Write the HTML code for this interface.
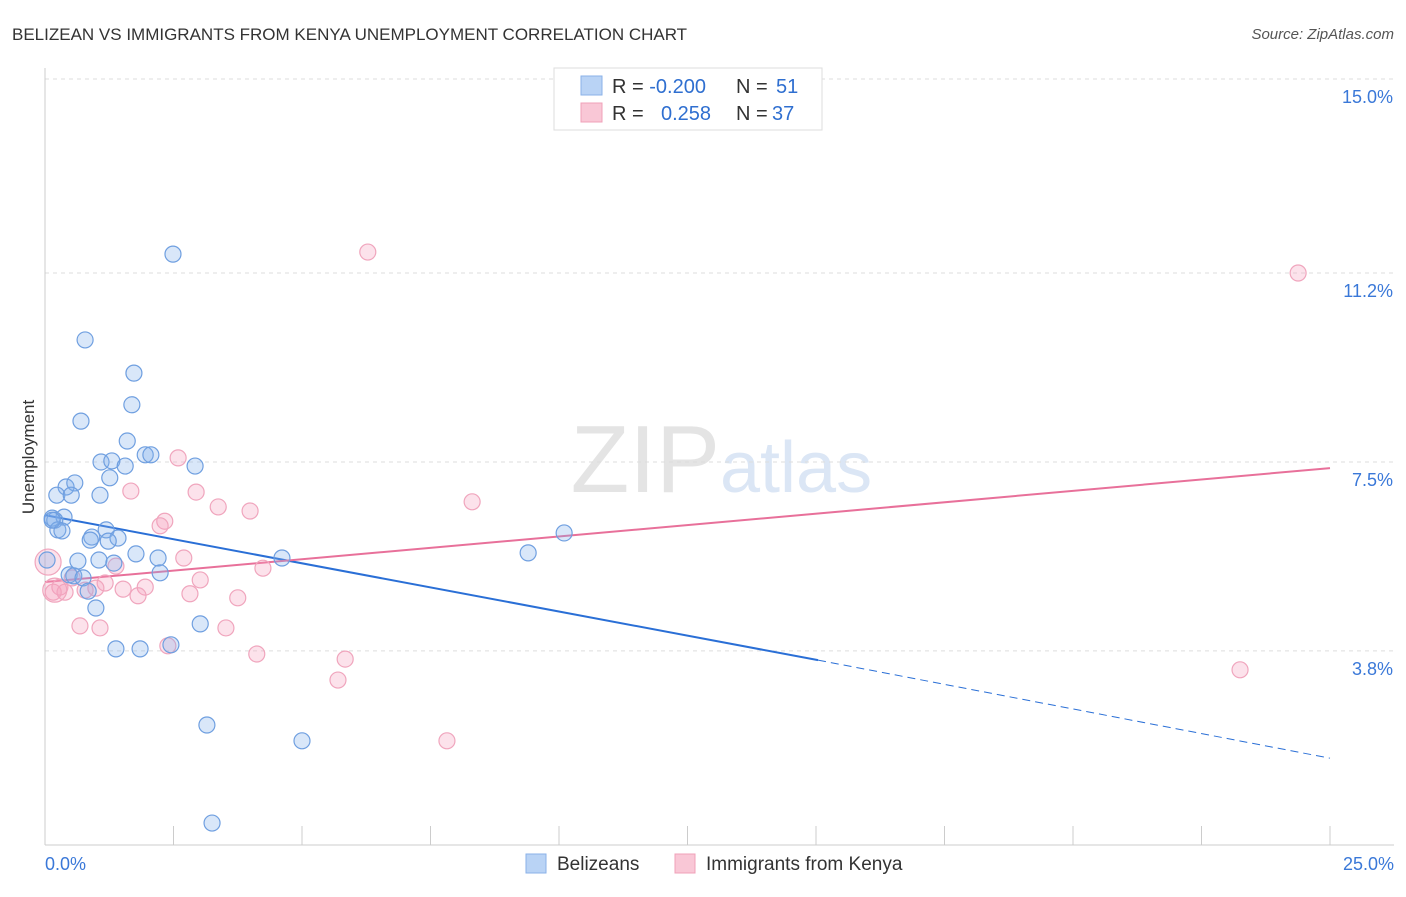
<!DOCTYPE html>
<html><head><meta charset="utf-8"><style>
body{margin:0;background:#fff;font-family:"Liberation Sans",sans-serif;}
svg text{font-family:"Liberation Sans",sans-serif;}
</style></head><body>
<svg width="1406" height="892" id="chart">
<text x="12" y="40" font-size="17" fill="#333">BELIZEAN VS IMMIGRANTS FROM KENYA UNEMPLOYMENT CORRELATION CHART</text>
<text x="1394" y="39" font-size="15" fill="#555" text-anchor="end" font-style="italic">Source: ZipAtlas.com</text>
<text x="720" y="492" font-size="96" fill="#e4e4e4" text-anchor="end" font-family="Liberation Serif">ZIP</text>
<text x="720" y="492" font-size="72" fill="#dbe6f5">atlas</text>
<text transform="translate(34,457) rotate(-90)" font-size="17" fill="#333" text-anchor="middle">Unemployment</text>
<g id="grid"></g><g id="lines"></g><g id="pts"></g>
<g>
<rect x="554" y="68" width="268" height="62" fill="#fff" stroke="#ddd"/>
<rect x="581" y="76" width="21" height="19" fill="#b9d3f5" stroke="#8ab2e8"/>
<rect x="581" y="103" width="21" height="19" fill="#f9c7d6" stroke="#f0a0b8"/>
<text x="612" y="93" font-size="20" fill="#333">R = <tspan fill="#2f6fd0">-0.200</tspan><tspan x="736">N = </tspan><tspan fill="#2f6fd0" x="776">51</tspan></text>
<text x="612" y="120" font-size="20" fill="#333">R = <tspan fill="#2f6fd0" x="661">0.258</tspan><tspan x="736">N = </tspan><tspan fill="#2f6fd0" x="772">37</tspan></text>
</g>
<g>
<rect x="526" y="854" width="20" height="19" fill="#b9d3f5" stroke="#8ab2e8"/>
<text x="557" y="870" font-size="19" fill="#333">Belizeans</text>
<rect x="675" y="854" width="20" height="19" fill="#f9c7d6" stroke="#f0a0b8"/>
<text x="706" y="870" font-size="19" fill="#333">Immigrants from Kenya</text>
</g>
<text x="45" y="870" font-size="18" fill="#3a78d8">0.0%</text>
<text x="1394" y="870" font-size="18" fill="#3a78d8" text-anchor="end">25.0%</text>
</svg>
<script>
const yTicks=[15.0,11.2,7.5,3.8];
const yTickLabels=["15.0%","11.2%","7.5%","3.8%"];
const xTicks=[0,2.5,5,7.5,10,12.5,15,17.5,20,22.5,25];
const blueX=[2.49,0.78,1.73,1.69,0.70,1.60,1.09,1.30,1.56,1.95,2.06,2.92,1.26,0.41,0.58,0.23,0.51,1.07,0.14,0.37,0.19,0.25,0.33,1.19,0.91,1.42,1.23,0.88,1.77,2.20,0.64,1.05,1.34,4.61,2.24,0.47,0.56,0.74,0.84,0.99,3.02,2.45,1.38,1.85,3.15,5.00,3.25,9.40,10.10,0.04,0.14];
const blueY=[11.57,9.89,9.24,8.62,8.30,7.91,7.50,7.52,7.42,7.64,7.64,7.42,7.19,7.01,7.09,6.85,6.85,6.85,6.40,6.42,6.36,6.17,6.15,6.17,6.03,6.01,5.95,5.97,5.70,5.62,5.56,5.58,5.52,5.62,5.33,5.29,5.27,5.23,4.97,4.64,4.33,3.92,3.84,3.84,2.35,2.04,0.43,5.72,6.11,5.58,6.36];
const pinkX=[6.28,24.38,2.59,1.67,2.94,3.37,3.99,8.31,2.33,2.24,2.70,4.24,1.38,3.02,1.95,1.17,1.52,0.99,0.53,0.29,0.39,0.16,2.82,1.81,3.75,0.68,1.07,3.52,2.39,4.12,5.84,5.70,7.82,23.25,0.06,0.19,0.78];
const pinkY=[11.61,11.20,7.58,6.93,6.91,6.62,6.54,6.72,6.34,6.25,5.62,5.42,5.46,5.19,5.05,5.13,5.01,5.03,5.23,5.05,4.95,4.95,4.92,4.88,4.84,4.29,4.25,4.25,3.90,3.74,3.64,3.23,2.04,3.43,5.54,4.99,4.99];
const pinkR=[8,8,8,8,8,8,8,8,8,8,8,8,8,8,8,8,8,8,8,8,8,8,8,8,8,8,8,8,8,8,8,8,8,8,13,12,8];
const blueTrend=[6.46,3.62,1.70]; const blueTrendX=[0,15.04,25];
const pinkTrend=[5.15,7.38];
const NS="http://www.w3.org/2000/svg";
const sx=v=>45+v*51.4, sy=v=>845-v*51.07;
function mk(t,a,p){const e=document.createElementNS(NS,t);for(const k in a)e.setAttribute(k,a[k]);p.appendChild(e);return e;}
const grid=document.getElementById('grid'),lines=document.getElementById('lines'),pts=document.getElementById('pts');
yTicks.forEach((v,i)=>{const l=mk('line',{x1:45,x2:1394,y1:sy(v),y2:sy(v),stroke:'#ddd','stroke-dasharray':'4,4'},grid);

const t=mk('text',{x:1393,y:sy(v)+24,'font-size':18,fill:'#3a78d8','text-anchor':'end'},grid);t.textContent=yTickLabels[i];
});
const ax=mk('line',{x1:45,x2:1394,y1:845,y2:845,stroke:'#ccc'},grid);
const ay=mk('line',{x1:45,x2:45,y1:68,y2:845,stroke:'#ccc'},grid);
xTicks.forEach(v=>{const l=mk('line',{x1:sx(v),x2:sx(v),y1:826,y2:845,stroke:'#ccc'},grid);});
pinkX.forEach((x,i)=>{const c=mk('circle',{cx:sx(x),cy:sy(pinkY[i]),r:pinkR[i],fill:'rgba(244,160,188,0.3)',stroke:'#f0a5bd','stroke-width':1.2},pts);
});
blueX.forEach((x,i)=>{const c=mk('circle',{cx:sx(x),cy:sy(blueY[i]),r:8,fill:'rgba(130,175,235,0.3)',stroke:'#6f9fe0','stroke-width':1.2},pts);
});
let b1=mk('line',{x1:sx(blueTrendX[0]),y1:sy(blueTrend[0]),x2:sx(blueTrendX[1]),y2:sy(blueTrend[1]),stroke:'#2a6fd6','stroke-width':2},lines);

let b2=mk('line',{x1:sx(blueTrendX[1]),y1:sy(blueTrend[1]),x2:sx(blueTrendX[2]),y2:sy(blueTrend[2]),stroke:'#2a6fd6','stroke-width':1,'stroke-dasharray':'8,5'},lines);

let p1=mk('line',{x1:sx(0),y1:sy(pinkTrend[0]),x2:sx(25),y2:sy(pinkTrend[1]),stroke:'#e8709a','stroke-width':2},lines);

</script>
</body></html>
